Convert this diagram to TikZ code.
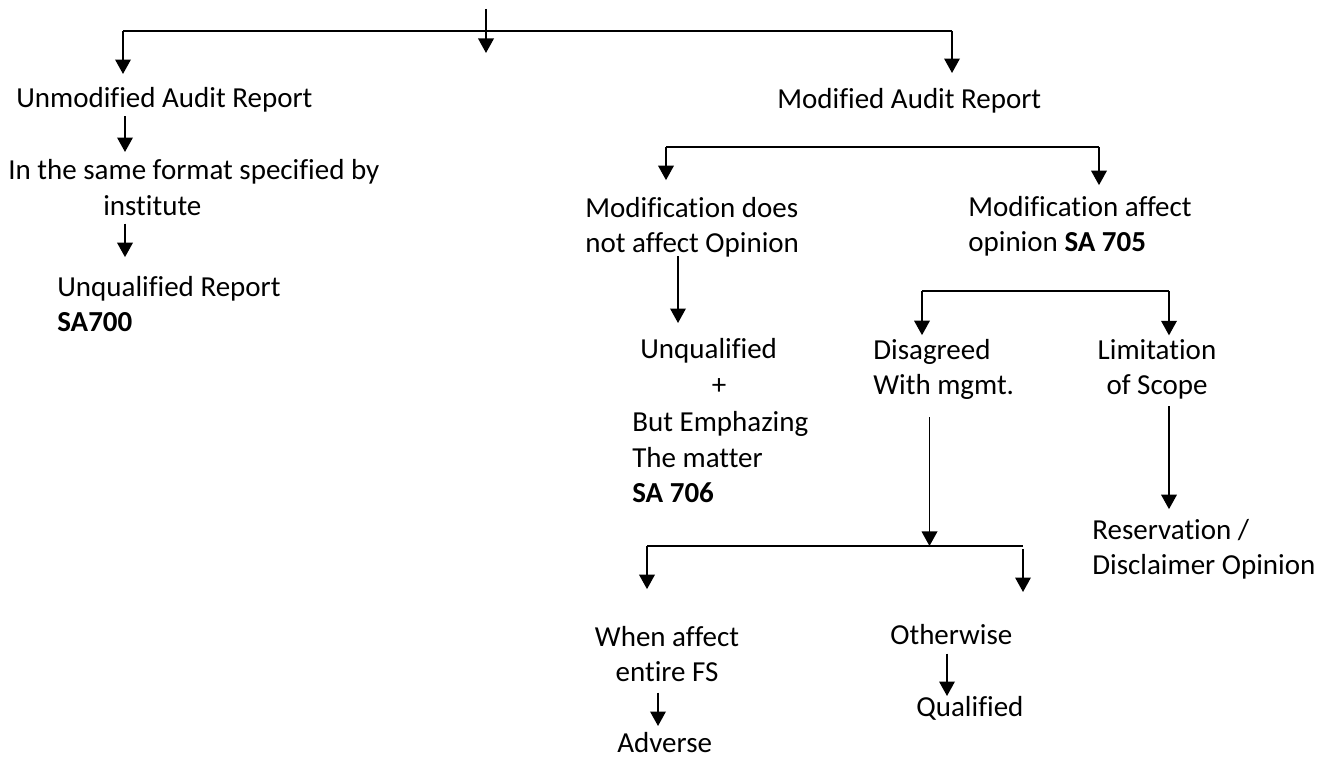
\documentclass[tikz,border=0pt]{standalone}
\usepackage{fontspec}
\setmainfont[Ligatures=NoCommon]{Carlito}
\usetikzlibrary{arrows.meta}

\begin{document}
\begin{tikzpicture}[
  x=1cm,y=1cm,
  font=\fontsize{16.5}{20.4}\selectfont,
  txt/.style={inner sep=0pt,anchor=base west,align=left},
  ctxt/.style={inner sep=0pt,anchor=base,align=center},
  link/.style={line width=1.1pt},
  flow/.style={-{Triangle[length=2.9mm,width=3.1mm]},line width=1.1pt}]
\path[use as bounding box] (0,0) rectangle (26.58,15.16);
\node[txt] (unmod) at (0.32,13.00) {Unmodified Audit Report};
\node[txt] (fmt) at (0.16,11.56) {In the same format specified by};
\node[txt] (inst) at (2.06,10.84) {institute};
\node[txt] (unq) at (1.14,8.52) {Unqualified Report\\\textbf{SA700}};
\node[txt] (mod) at (15.54,12.98) {Modified Audit Report};
\node[txt] (nomod) at (11.70,10.10) {Modification does\\not affect Opinion};
\node[txt] (affect) at (19.36,10.12) {Modification affect\\opinion \textbf{SA 705}};
\node[txt] (unqual) at (12.80,7.98) {Unqualified};
\node[ctxt] (plus) at (14.38,7.26) {+};
\node[txt] (emph) at (12.64,5.10) {But Emphazing\\The matter\\\textbf{SA 706}};
\node[txt] (disag) at (17.46,7.26) {Disagreed\\With mgmt.};
\node[ctxt] (limit) at (23.14,7.26) {Limitation\\of Scope};
\node[txt] (reserv) at (21.84,3.66) {Reservation /\\Disclaimer Opinion};
\node[ctxt] (entire) at (13.34,1.52) {When affect\\entire FS};
\node[txt] (adverse) at (12.34,0.10) {Adverse};
\node[txt] (other) at (17.80,2.26) {Otherwise};
\node[txt] (qual) at (18.32,0.82) {Qualified};

\coordinate (root) at (9.72,14.98);
\coordinate (rootend) at (9.72,14.10);
\coordinate (s1l) at (2.46,14.54);
\coordinate (s1r) at (19.04,14.54);
\coordinate (s2l) at (13.32,12.22);
\coordinate (s2r) at (21.98,12.22);
\coordinate (s3l) at (18.44,9.34);
\coordinate (s3r) at (23.38,9.34);
\coordinate (s4l) at (12.94,4.24);
\coordinate (s4m) at (18.59,4.24);
\coordinate (s4r) at (20.46,4.24);
\coordinate (a1) at (2.50,12);
\coordinate (a2) at (13.56,10);
\coordinate (a3) at (13.16,2);
\coordinate (a4) at (18.94,2);

\draw[link] (s1l) -- (s1r);
\draw[flow] (root) -- (rootend);
\draw[flow,shorten >=2.7mm] (s1l) -- (unmod.north -| s1l);
\draw[flow,shorten >=3.1mm] (s1r) -- (mod.north -| s1r);
\draw[flow,shorten <=0.6mm,shorten >=1.5mm] (unmod.south -| a1) -- (fmt.north -| a1);
\draw[flow,shorten <=1.4mm,shorten >=3.7mm] (inst.south -| a1) -- (unq.north -| a1);
\draw[link] (s2l) -- (s2r);
\draw[flow,shorten >=3.3mm] (s2l) -- (nomod.north -| s2l);
\draw[flow,shorten >=2.1mm] (s2r) -- (affect.north -| s2r);
\draw[flow,shorten <=-0.4mm,shorten >=3.1mm] (nomod.south -| a2) -- (unqual.north -| a2);
\draw[link] (s3l) -- (s3r);
\draw[flow,shorten >=0.7mm] (s3l) -- (disag.north -| s3l);
\draw[flow,shorten >=0.7mm] (s3r) -- (limit.north -| s3r);
\draw[flow,shorten <=1.2mm,shorten >=1.9mm] (limit.south -| s3r) -- (reserv.north -| s3r);
\draw[flow,shorten <=3.4mm] (disag.south -| s4m) -- (s4m);
\draw[link] (s4l) -- (s4r);
\draw[flow,shorten >=7.3mm] (s4l) -- (entire.north -| s4l);
\draw[flow,shorten <=0.6mm,shorten >=6.5mm] (s4r) -- (other.north -| s4r);
\draw[flow,shorten <=2mm,shorten >=1.3mm] (entire.south -| a3) -- (adverse.north -| a3);
\draw[flow,shorten <=1.6mm,shorten >=0.1mm] (other.south -| a4) -- (qual.north -| a4);
\end{tikzpicture}
\end{document}
